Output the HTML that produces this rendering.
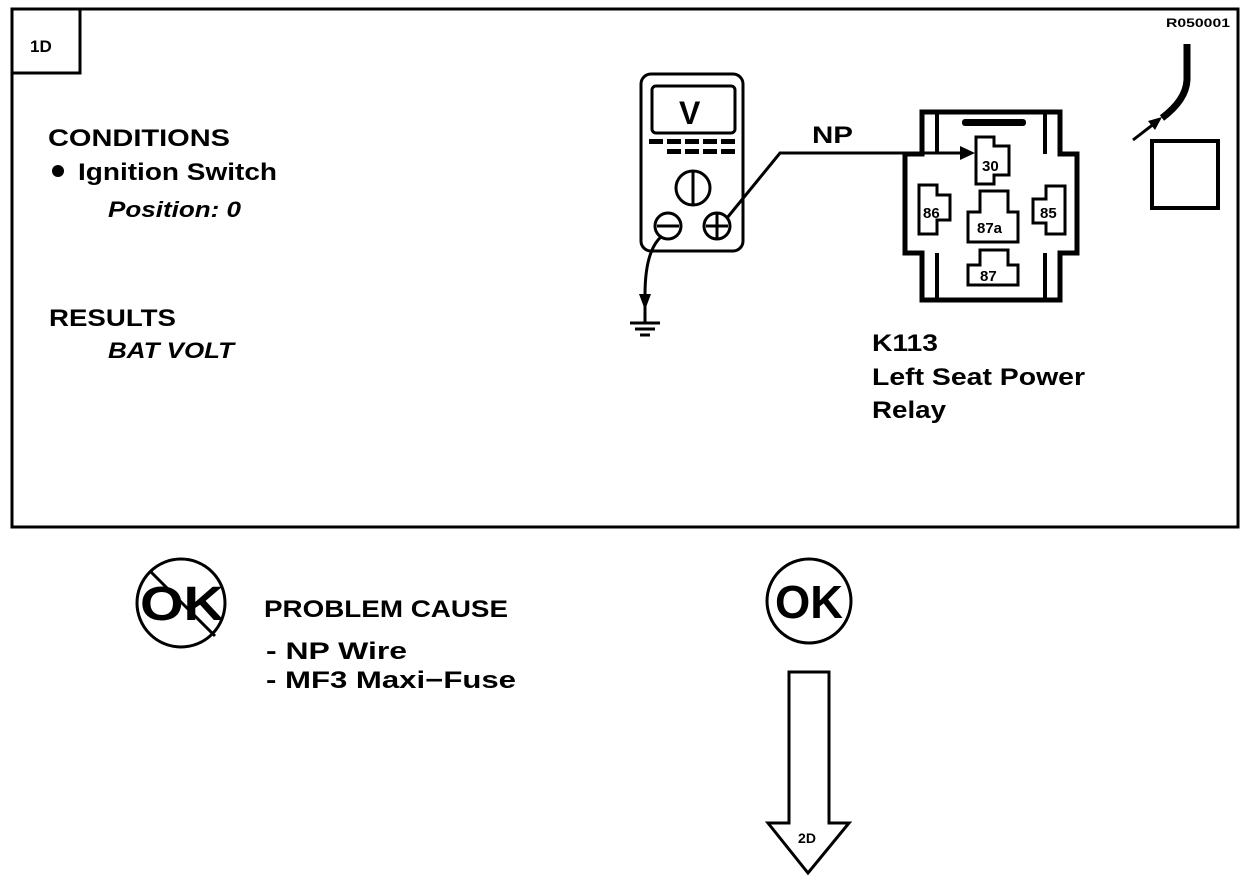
<!DOCTYPE html>
<html><head><meta charset="utf-8"><style>
html,body{margin:0;padding:0;background:#fff;}
svg{display:block;}
text{font-family:"Liberation Sans",Arial,sans-serif;font-weight:bold;fill:#000;}
</style></head><body>
<svg width="1248" height="880" viewBox="0 0 1248 880" xmlns="http://www.w3.org/2000/svg">
<rect x="12" y="9" width="1226" height="518" fill="none" stroke="#000" stroke-width="3"/>
<rect x="12" y="9" width="68" height="64" fill="none" stroke="#000" stroke-width="3"/>
<text x="30" y="52" font-size="17">1D</text>
<text x="1166" y="27" font-size="12" textLength="64" lengthAdjust="spacingAndGlyphs">R050001</text>

<text x="48" y="146" font-size="24" textLength="182" lengthAdjust="spacingAndGlyphs">CONDITIONS</text>
<circle cx="58" cy="171" r="6" fill="#000"/>
<text x="78" y="180" font-size="24" textLength="199" lengthAdjust="spacingAndGlyphs">Ignition Switch</text>
<text x="108" y="217" font-size="22" font-style="italic" textLength="133" lengthAdjust="spacingAndGlyphs">Position: 0</text>
<text x="49" y="326" font-size="24" textLength="127" lengthAdjust="spacingAndGlyphs">RESULTS</text>
<text x="108" y="358" font-size="22" font-style="italic" textLength="126" lengthAdjust="spacingAndGlyphs">BAT VOLT</text>

<!-- multimeter -->
<rect x="641" y="74" width="102" height="177" rx="10" fill="none" stroke="#000" stroke-width="3"/>
<rect x="652" y="86" width="83" height="47" rx="4" fill="none" stroke="#000" stroke-width="3"/>
<text x="679" y="124" font-size="32">V</text>
<g fill="#000">
<rect x="649" y="139" width="14" height="5"/><rect x="667" y="139" width="14" height="5"/><rect x="685" y="139" width="14" height="5"/><rect x="703" y="139" width="14" height="5"/><rect x="721" y="139" width="14" height="5"/>
<rect x="667" y="149" width="14" height="5"/><rect x="685" y="149" width="14" height="5"/><rect x="703" y="149" width="14" height="5"/><rect x="721" y="149" width="14" height="5"/>
</g>
<circle cx="693" cy="188" r="17" fill="none" stroke="#000" stroke-width="3"/>
<line x1="693" y1="172" x2="693" y2="205" stroke="#000" stroke-width="3"/>
<circle cx="668" cy="226" r="13" fill="none" stroke="#000" stroke-width="3"/>
<line x1="657" y1="226" x2="679" y2="226" stroke="#000" stroke-width="3"/>
<circle cx="717" cy="226" r="13" fill="none" stroke="#000" stroke-width="3"/>
<line x1="706" y1="226" x2="728" y2="226" stroke="#000" stroke-width="3"/>
<line x1="717" y1="214" x2="717" y2="238" stroke="#000" stroke-width="3"/>
<polyline points="727,218 780,153 962,153" fill="none" stroke="#000" stroke-width="3"/>
<polygon points="975,153 960,146 960,160" fill="#000"/>
<text x="812" y="143" font-size="24" textLength="41" lengthAdjust="spacingAndGlyphs">NP</text>
<path d="M662,236 Q645,250 645,295" fill="none" stroke="#000" stroke-width="3"/>
<polygon points="645,310 639,294 651,294" fill="#000"/>
<line x1="645" y1="295" x2="645" y2="322" stroke="#000" stroke-width="3"/>
<line x1="630" y1="323" x2="660" y2="323" stroke="#000" stroke-width="3"/>
<line x1="635" y1="329" x2="655" y2="329" stroke="#000" stroke-width="3"/>
<line x1="640" y1="335" x2="650" y2="335" stroke="#000" stroke-width="3"/>

<!-- relay -->
<path d="M922,112 H1060 V154 H1077 V253 H1060 V300 H922 V253 H905 V154 H922 Z" fill="none" stroke="#000" stroke-width="5"/>
<line x1="937" y1="112" x2="937" y2="154" stroke="#000" stroke-width="4"/>
<line x1="1045" y1="112" x2="1045" y2="154" stroke="#000" stroke-width="4"/>
<line x1="937" y1="253" x2="937" y2="300" stroke="#000" stroke-width="4"/>
<line x1="1045" y1="253" x2="1045" y2="300" stroke="#000" stroke-width="4"/>
<rect x="962" y="119" width="64" height="7" rx="3" fill="#000"/>
<path d="M976,137 H994 V146 H1009 V175 H994 V184 H976 Z" fill="none" stroke="#000" stroke-width="3"/>
<text x="982" y="171" font-size="15">30</text>
<path d="M919,185 H937 V195 H950 V220 H937 V234 H919 Z" fill="none" stroke="#000" stroke-width="3"/>
<text x="923" y="218" font-size="15">86</text>
<path d="M980,191 H1008 V212 H1018 V242 H968 V212 H980 Z" fill="none" stroke="#000" stroke-width="3"/>
<text x="977" y="233" font-size="15">87a</text>
<path d="M1033,199 H1046 V186 H1065 V234 H1046 V223 H1033 Z" fill="none" stroke="#000" stroke-width="3"/>
<text x="1040" y="218" font-size="15">85</text>
<path d="M980,250 H1008 V265 H1018 V285 H968 V265 H980 Z" fill="none" stroke="#000" stroke-width="3"/>
<text x="980" y="281" font-size="15">87</text>
<text x="872" y="351" font-size="24" textLength="66" lengthAdjust="spacingAndGlyphs">K113</text>
<text x="872" y="385" font-size="24" textLength="213" lengthAdjust="spacingAndGlyphs">Left Seat Power</text>
<text x="872" y="418" font-size="24" textLength="74" lengthAdjust="spacingAndGlyphs">Relay</text>

<!-- top right connector -->
<path d="M1187,44 V80 Q1186,100 1162,118" fill="none" stroke="#000" stroke-width="7"/>
<line x1="1133" y1="140" x2="1155" y2="123" stroke="#000" stroke-width="3"/>
<polygon points="1162,117 1148,121 1155,130" fill="#000"/>
<rect x="1152" y="141" width="66" height="67" fill="none" stroke="#000" stroke-width="4"/>

<!-- NOT OK -->
<circle cx="181" cy="603" r="44" fill="none" stroke="#000" stroke-width="3"/>
<text x="140" y="620" font-size="48" textLength="84" lengthAdjust="spacingAndGlyphs">OK</text>
<line x1="150" y1="571" x2="215" y2="636" stroke="#000" stroke-width="3"/>
<text x="264" y="617" font-size="24" textLength="244" lengthAdjust="spacingAndGlyphs">PROBLEM CAUSE</text>
<text x="266" y="659" font-size="24" textLength="141" lengthAdjust="spacingAndGlyphs">-  NP  Wire</text>
<text x="266" y="688" font-size="24" textLength="250" lengthAdjust="spacingAndGlyphs">-  MF3  Maxi−Fuse</text>

<!-- OK -->
<circle cx="809" cy="601" r="42" fill="none" stroke="#000" stroke-width="3"/>
<text x="775" y="618" font-size="46" textLength="68" lengthAdjust="spacingAndGlyphs">OK</text>
<polygon points="789,672 829,672 829,823 849,823 808,873 768,823 789,823" fill="none" stroke="#000" stroke-width="3"/>
<text x="807" y="843" font-size="14" text-anchor="middle">2D</text>
</svg>
</body></html>
